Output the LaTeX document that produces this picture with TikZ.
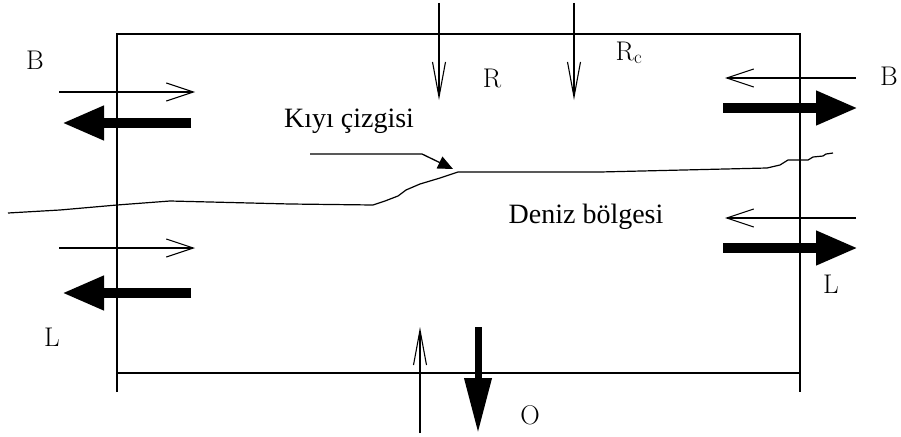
\documentclass[tikz,border=0pt]{standalone}
\usepackage{fontspec}
\newfontfamily\trfont{Liberation Serif}
\usetikzlibrary{arrows.meta}
\tikzset{
  frame/.style={line width=1.2pt,draw=black},
  coast/.style={line width=1.2pt,draw=black,line join=round},
  thinh/.style={line width=1.1pt,-{Straight Barb[length=27pt,width=18pt,line width=1.1pt]}},
  thinv/.style={line width=1.1pt,-{Straight Barb[length=35pt,width=13pt,line width=1.1pt]}},
  thickh/.style={line width=10pt,-{Triangle[length=42pt,width=32pt]}},
  thickv/.style={line width=7pt,-{Triangle[length=55pt,width=26pt]}},
  leader/.style={line width=1.3pt,-{Triangle[length=15pt,width=13pt]}},
  sym/.style={inner sep=0pt,anchor=base,font=\fontsize{27}{30}\selectfont},
  txt/.style={inner sep=0pt,anchor=base,font=\trfont\fontsize{28}{32}\selectfont},
}

\begin{document}
\begin{tikzpicture}[x=1pt,y=-1pt]
  \useasboundingbox (0,0) rectangle (901,436);

  % control volume
  \draw[frame] (117,392) -- (117,34) -- (800,34) -- (800,392);
  \draw[frame] (117,373) -- (800,373);

  % shoreline
  \draw[coast] (8,213) -- (60,210) -- (117,205) -- (170,201) -- (290,204)
    -- (373,205) -- (385,201) -- (398,196) -- (406,190) -- (420,184)
    -- (440,178) -- (458,172) -- (600,172) -- (767,168) -- (780,165)
    -- (788,160) -- (808,160) -- (813,157) -- (823,156) -- (826,154) -- (833,153);

  % left boundary
  \node[sym] (Bl) at (35,69) {B};
  \node[sym] (Ll) at (52,346) {L};
  \draw[thinh] (59,92) -- (195,92);
  \draw[thickh] (191,123) -- (62,123);
  \draw[thinh] (59,248) -- (195,248);
  \draw[thickh] (191,293) -- (62,293);

  % right boundary
  \node[sym] (Br) at (889,85) {B};
  \node[sym] (Lr) at (831,293) {L};
  \draw[thinh] (856,78) -- (725,78);
  \draw[thickh] (723,108) -- (858,108);
  \draw[thinh] (856,218) -- (725,218);
  \draw[thickh] (723,248) -- (858,248);

  % top boundary
  \node[sym] (R) at (492,87) {R};
  \node[sym] (Rc) at (629,60) {R$_{\mathrm{c}}$};
  \draw[thinv] (439,3) -- (439,100);
  \draw[thinv] (574,3) -- (574,100);

  % bottom boundary
  \node[sym] (O) at (530,424) {O};
  \draw[thinv] (420,433) -- (420,327);
  \draw[thickv] (478,327) -- (478,433);

  % labels
  \node[txt] (kiyi) at (349,127) {Kıyı çizgisi};
  \node[txt] (deniz) at (586,223) {Deniz bölgesi};
  \coordinate (kstart) at (310,154);
  \coordinate (kbend) at (422,154);
  \coordinate (ktip) at (453,169);
  \draw[leader] (kstart) -- (kbend) -- (ktip);
\end{tikzpicture}
\end{document}
